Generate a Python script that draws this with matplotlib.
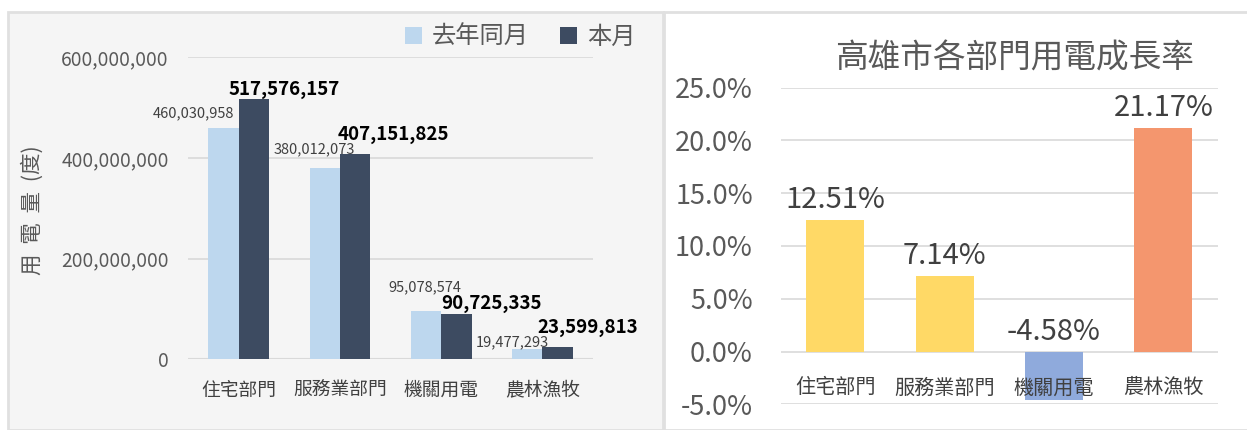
import numpy as np
import matplotlib.pyplot as plt
from matplotlib.patches import Rectangle
from matplotlib.ticker import FuncFormatter

plt.rcParams['font.family'] = ['Noto Sans CJK TC', 'DejaVu Sans']

# 資料
categories = ['住宅部門', '服務業部門', '機關用電', '農林漁牧']
last_year = [460030958, 380012073, 95078574, 19477293]
this_month = [517576157, 407151825, 90725335, 23599813]
growth = [12.51, 7.14, -4.58, 21.17]
growth_colors = ['#FFD966', '#FFD966', '#8FAADC', '#F4966E']

W, H = 1247, 430
fig = plt.figure(figsize=(W / 100, H / 100), dpi=100)
fig.patch.set_facecolor('white')

def px(x0, y0, x1, y1):
    # pixel box -> figure fraction [left, bottom, width, height]
    return [x0 / W, 1 - y1 / H, (x1 - x0) / W, (y1 - y0) / H]

# 外框
fig.patches.append(Rectangle((8 / W, 0), (663 - 8) / W, 1 - 12 / H,
                             transform=fig.transFigure, facecolor='#F5F5F5',
                             edgecolor='#E0E0E0', lw=2, zorder=-10))
fig.patches.append(Rectangle((664 / W, 0), (W + 10 - 664) / W, 1 - 12 / H,
                             transform=fig.transFigure, facecolor='white',
                             edgecolor='#E0E0E0', lw=2, zorder=-10))

# ---------- 左圖：用電量 ----------
ax = fig.add_axes(px(188, 57.3, 593, 359.3))
ax.set_facecolor('none')
x = np.arange(len(categories))
w = 0.3
ax.bar(x - w / 2, last_year, w, color='#BDD7EE', label='去年同月', zorder=2)
ax.bar(x + w / 2, this_month, w, color='#3D4B61', label='本月', zorder=2)
ax.set_xlim(-0.5, 3.5)
ax.set_ylim(0, 600e6)
ax.set_yticks([0, 200e6, 400e6, 600e6])
ax.yaxis.set_major_formatter(FuncFormatter(lambda v, p: f'{v:,.0f}'))
ax.tick_params(axis='y', length=0, pad=14, labelsize=13.8, labelcolor='#595959')
ax.set_xticks([])
ax.grid(axis='y', color='#D9D9D9', lw=1.2, zorder=0)
for s in ax.spines.values():
    s.set_visible(False)
ax.axhline(0, color='#D9D9D9', lw=1.5, zorder=1)

for i, c in enumerate(categories):
    ax.text(i, -0.102, c, transform=ax.get_xaxis_transform(), ha='center',
            va='center', fontsize=13.5, color='#404040', fontweight='medium')

# 數值標籤（位置依原圖微調）
light_off = [(-30, 10), (-10, 15), (-1, 20), (-15, 3)]
dark_off = [(30, 4), (38, 15), (35, 5), (30, 15)]
for i in range(len(categories)):
    ax.annotate(f'{last_year[i]:,}', (i - w / 2, last_year[i]),
                xytext=light_off[i], textcoords='offset pixels',
                ha='center', va='baseline', fontsize=10.5, color='#404040')
    ax.annotate(f'{this_month[i]:,}', (i + w / 2, this_month[i]),
                xytext=dark_off[i], textcoords='offset pixels',
                ha='center', va='baseline', fontsize=13.5, fontweight='bold',
                color='black')

ax.text(33 / W, 1 - 210 / H, '用  電  量  (度)', transform=fig.transFigure,
        rotation=90, ha='center', va='center', fontsize=15.5, color='#595959')

ax.legend(loc='upper left', bbox_to_anchor=(405 / W, 1 - 24 / H),
          bbox_transform=fig.transFigure, ncol=2, frameon=False,
          fontsize=17.5, handlelength=0.7, handleheight=0.7,
          handletextpad=0.4, columnspacing=1.3, labelcolor='#595959',
          borderaxespad=0, borderpad=0)

# ---------- 右圖：成長率 ----------
ax2 = fig.add_axes(px(780.6, 87.7, 1218, 404.3))
ax2.set_facecolor('none')
ax2.bar(x, growth, 0.53, color=growth_colors, zorder=2)
ax2.set_xlim(-0.5, 3.5)
ax2.set_ylim(-5, 25)
ax2.set_yticks(np.arange(-5, 26, 5))
ax2.yaxis.set_major_formatter(FuncFormatter(lambda v, p: f'{v:.1f}%'))
ax2.tick_params(axis='y', length=0, pad=20, labelsize=19.5, labelcolor='#595959')
ax2.set_xticks([])
ax2.grid(axis='y', color='#D9D9D9', lw=1.2, zorder=0)
for s in ax2.spines.values():
    s.set_visible(False)

for i, c in enumerate(categories):
    ax2.text(i, -3.45, c, ha='center', va='center', fontsize=14.5,
             color='#404040', fontweight='medium', zorder=3)
    ax2.annotate(f'{growth[i]:.2f}%', (i, max(growth[i], 0)),
                 xytext=(0, 12), textcoords='offset pixels', ha='center',
                 va='baseline', fontsize=21, color='#404040')

fig.text(1014 / W, 1 - 59 / H, '高雄市各部門用電成長率', ha='center', va='center',
         fontsize=23.5, color='#595959', fontweight='medium')

fig.savefig('out.png', dpi=100)
